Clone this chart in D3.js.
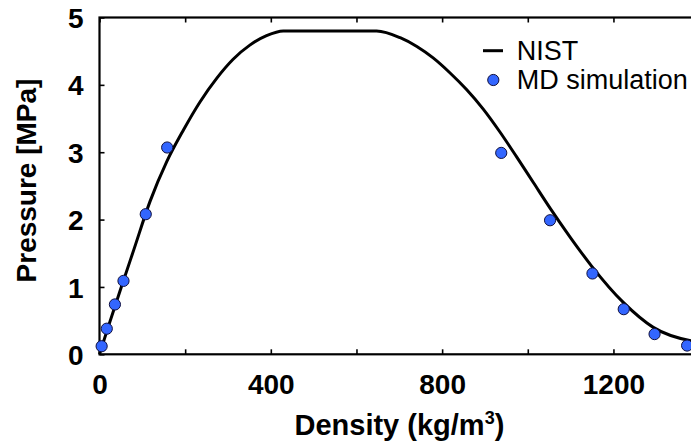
<!DOCTYPE html>
<html>
<head>
<meta charset="utf-8">
<script src="https://cdn.jsdelivr.net/npm/d3@7"></script>
<style>
  html, body { margin: 0; padding: 0; background: #fff; overflow: hidden; }
  svg { display: block; }
  text { font-family: "Liberation Sans", Arial, sans-serif; }
</style>
</head>
<body>
<svg id="chart" width="691" height="444"></svg>
<script>
// NIST curve
const nistDensity  = [0, 20, 50, 80, 118, 157, 196, 235, 274, 312, 351, 390, 429, 647, 702, 741, 779, 818, 857, 896, 935, 974, 1013, 1052, 1100, 1149, 1223, 1293, 1381, 1400];
const nistPressure = [0, 0.40, 0.98, 1.55, 2.27, 2.86, 3.33, 3.75, 4.10, 4.38, 4.59, 4.73, 4.80, 4.80, 4.70, 4.57, 4.40, 4.18, 3.93, 3.64, 3.30, 2.93, 2.55, 2.17, 1.73, 1.31, 0.77, 0.40, 0.20, 0.18];
// MD simulation points
const mdDensity  = [5, 17, 36, 56, 108, 158, 938, 1052, 1151, 1224, 1296, 1372];
const mdPressure = [0.12, 0.38, 0.74, 1.09, 2.08, 3.07, 2.99, 1.99, 1.20, 0.67, 0.30, 0.13];
// ticks
const xTicks = [0, 200, 400, 600, 800, 1000, 1200, 1400];
const xTickLabels = ["0", "", "400", "", "800", "", "1200", ""];
const yTicks = [0, 1, 2, 3, 4, 5];
const yTickLabels = ["0", "1", "2", "3", "4", "5"];
const xTitle = "Density (kg/m";
const yTitle = "Pressure [MPa]";
const legendLabels = ["NIST", "MD simulation"];

const svg = d3.select("#chart");
const m = { left: 99.5, top: 17.5 };
const W = 599.6, H = 336.8;

const x = d3.scaleLinear().domain([0, 1400]).range([m.left, m.left + W]);
const y = d3.scaleLinear().domain([0, 5]).range([m.top + H, m.top]);

const fontBold = "bold 28px 'Liberation Sans', Arial, sans-serif";

// bottom axis
const gx = svg.append("g").attr("transform", `translate(0,${m.top + H})`)
  .call(d3.axisBottom(x).tickValues(xTicks)
    .tickFormat((d, i) => xTickLabels[i])
    .tickSizeInner(-5).tickSizeOuter(0).tickPadding(20));
// top axis (ticks only)
const gxt = svg.append("g").attr("transform", `translate(0,${m.top})`)
  .call(d3.axisTop(x).tickValues(xTicks).tickFormat("")
    .tickSizeInner(-5).tickSizeOuter(0));
// left axis
const gy = svg.append("g").attr("transform", `translate(${m.left},0)`)
  .call(d3.axisLeft(y).tickValues(yTicks)
    .tickFormat((d, i) => yTickLabels[i])
    .tickSizeInner(-5).tickSizeOuter(0).tickPadding(16));
// right axis
const gyr = svg.append("g").attr("transform", `translate(${m.left + W},0)`)
  .call(d3.axisRight(y).tickValues(yTicks).tickFormat("")
    .tickSizeInner(-5).tickSizeOuter(0));

[gx, gxt, gy, gyr].forEach(g => {
  g.select(".domain").remove();
  g.selectAll(".tick line").attr("stroke", "#000").attr("stroke-width", 1.6);
  g.selectAll(".tick text").attr("fill", "#000").style("font", fontBold);
});
gy.selectAll(".tick text").attr("dy", "0.36em");

// frame
svg.append("rect")
  .attr("x", x(0)).attr("y", y(5))
  .attr("width", x(1400) - x(0)).attr("height", y(0) - y(5))
  .attr("fill", "none").attr("stroke", "#000").attr("stroke-width", 2.2);

// NIST line
const nist = nistDensity.map((d, i) => [d, nistPressure[i]]);
svg.append("path")
  .datum(nist)
  .attr("fill", "none")
  .attr("stroke", "#000")
  .attr("stroke-width", 3)
  .attr("stroke-linejoin", "round")
  .attr("d", d3.line().x(d => x(d[0])).y(d => y(d[1])).curve(d3.curveMonotoneX));

// MD points
const md = mdDensity.map((d, i) => [d, mdPressure[i]]);
svg.append("g").selectAll("circle")
  .data(md).join("circle")
  .attr("cx", d => x(d[0]))
  .attr("cy", d => y(d[1]))
  .attr("r", 5.6)
  .attr("fill", "#3366ff")
  .attr("stroke", "#101040")
  .attr("stroke-width", 1);

// axis titles
const xt = svg.append("text")
  .attr("x", 399.4).attr("y", 435)
  .attr("text-anchor", "middle")
  .style("font", "bold 29px 'Liberation Sans', Arial, sans-serif")
  .attr("fill", "#000");
xt.append("tspan").text(xTitle);
xt.append("tspan").text("3").attr("dy", -11).style("font-size", "18px");
xt.append("tspan").text(")").attr("dy", 11);

svg.append("text")
  .attr("transform", "translate(36,180.5) rotate(-90)")
  .attr("text-anchor", "middle")
  .style("font", fontBold)
  .attr("fill", "#000")
  .text(yTitle);

// legend
const lg = svg.append("g");
lg.append("line")
  .attr("x1", 483).attr("x2", 503).attr("y1", 50.7).attr("y2", 50.7)
  .attr("stroke", "#000").attr("stroke-width", 3);
lg.append("circle")
  .attr("cx", 493.3).attr("cy", 80).attr("r", 5.6)
  .attr("fill", "#3366ff").attr("stroke", "#101040").attr("stroke-width", 1);
lg.selectAll("text.leg").data(legendLabels).join("text")
  .attr("class", "leg")
  .attr("x", 516.7)
  .attr("y", (d, i) => 60 + i * 29.3)
  .style("font", "27px 'Liberation Sans', Arial, sans-serif")
  .attr("fill", "#000")
  .text(d => d);
</script>
</body>
</html>
